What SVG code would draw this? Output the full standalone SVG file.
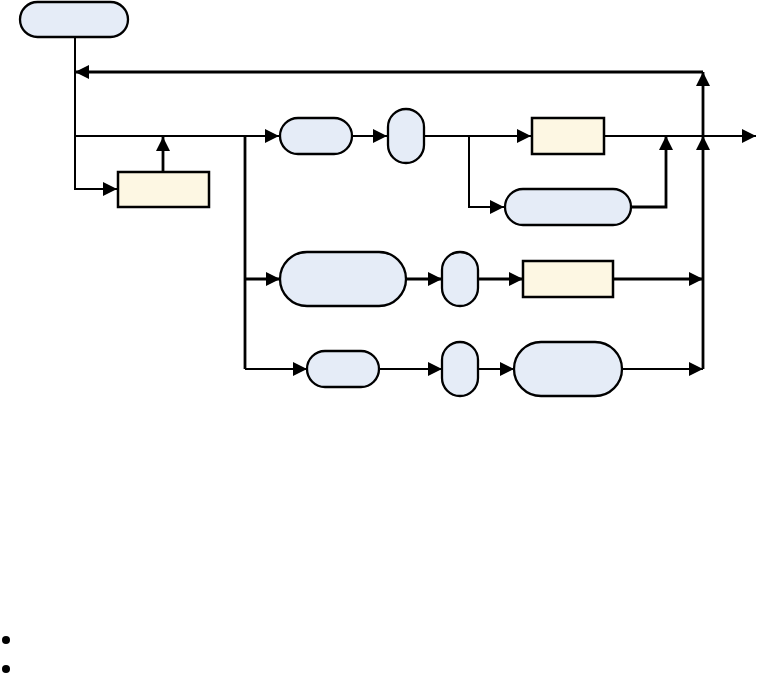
<svg xmlns="http://www.w3.org/2000/svg" width="757" height="682" viewBox="0 0 757 682">
<style>
.b{fill:#E5ECF7;stroke:#000;stroke-width:2.3}
.y{fill:#FDF7E3;stroke:#000;stroke-width:2.5}
.c{fill:none;stroke:#000;stroke-width:2.8}
.t{fill:none;stroke:#000;stroke-width:2}
.a{marker-end:url(#ar)}
</style>
<defs>
<marker id="ar" markerUnits="userSpaceOnUse" markerWidth="16" markerHeight="16" refX="14" refY="7" orient="auto">
<path d="M0,0 L14,7 L0,14 Z" fill="#000"/>
</marker>
</defs>
<rect width="757" height="682" fill="#fff"/>
<g id="connectors">
<path class="t a" d="M75,37 V189 H117"/>
<path class="t a" d="M75,136 H279"/>
<path class="c a" d="M163,172 V137"/>
<path class="c a" d="M703,72 H75"/>
<path class="t a" d="M352,136 H387"/>
<path class="t a" d="M424,136 H531"/>
<path class="t a" d="M469,136 V207 H504"/>
<path class="t a" d="M604,136 H756"/>
<path class="c a" d="M631,207 H666 V136"/>
<path class="c a" d="M703,136 V72"/>
<path class="c a" d="M703,369 V136"/>
<path class="c" d="M245,136 V369"/>
<path class="c a" d="M245,279 H280"/>
<path class="t a" d="M245,369 H307"/>
<path class="c a" d="M406,279 H442"/>
<path class="c a" d="M478,279 H523"/>
<path class="c a" d="M613,279 H703"/>
<path class="t a" d="M379,369 H442"/>
<path class="t a" d="M478,369 H514"/>
<path class="t a" d="M622,369 H703"/>
</g>
<g id="n0"><rect class="b" x="20" y="2" width="108" height="35" rx="17.5"/></g>
<g id="n1"><rect class="y" x="118" y="172" width="91" height="35"/></g>
<g id="n2"><rect class="b" x="280" y="118" width="72" height="36" rx="18"/></g>
<g id="n3"><rect class="b" x="388" y="109" width="36" height="54" rx="18"/></g>
<g id="n4"><rect class="y" x="532" y="118" width="72" height="36"/></g>
<g id="n5"><rect class="b" x="505" y="189" width="126" height="36" rx="18"/></g>
<g id="n6"><rect class="b" x="280" y="252" width="126" height="54" rx="27"/></g>
<g id="n7"><rect class="b" x="442" y="252" width="36" height="54" rx="18"/></g>
<g id="n8"><rect class="y" x="523" y="261" width="90" height="36"/></g>
<g id="n9"><rect class="b" x="307" y="351" width="72" height="36" rx="18"/></g>
<g id="n10"><rect class="b" x="442" y="342" width="36" height="54" rx="18"/></g>
<g id="n11"><rect class="b" x="514" y="342" width="108" height="54" rx="27"/></g>
<circle cx="6" cy="640" r="4" fill="#000"/>
<circle cx="6" cy="669" r="4" fill="#000"/>
</svg>
